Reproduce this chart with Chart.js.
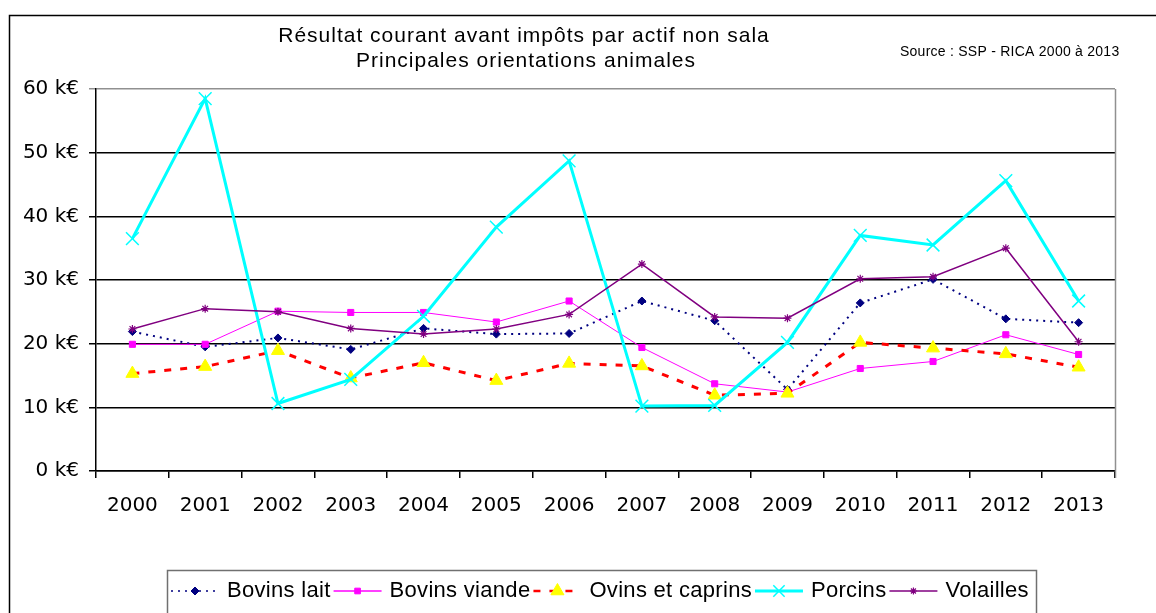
<!DOCTYPE html>
<html>
<head>
<meta charset="utf-8">
<script src="https://cdn.jsdelivr.net/npm/chart.js@4.4.1/dist/chart.umd.min.js"></script>
<style>
  html, body { margin: 0; padding: 0; background: #fff; }
  #wrap { width: 1156px; height: 613px; }
</style>
</head>
<body>
<div id="wrap"><canvas id="myChart" width="1156" height="613"></canvas></div>
<script>
// Data (k€)
var years = ['2000', '2001', '2002', '2003', '2004', '2005', '2006', '2007', '2008', '2009', '2010', '2011', '2012', '2013'];
var bovinsLait = [21.9, 19.5, 20.9, 19.1, 22.4, 21.5, 21.6, 26.7, 23.6, 12.8, 26.4, 30.1, 23.9, 23.3];
var bovinsViande = [19.9, 19.9, 25.1, 24.9, 24.9, 23.4, 26.7, 19.4, 13.7, 12.4, 16.1, 17.2, 21.4, 18.3];
var ovinsCaprins = [15.3, 16.4, 18.9, 14.6, 17.0, 14.2, 16.9, 16.5, 11.9, 12.2, 20.2, 19.3, 18.4, 16.3];
var porcins = [36.5, 58.5, 10.6, 14.4, 24.3, 38.3, 48.7, 10.2, 10.3, 20.2, 37.0, 35.5, 45.6, 26.7];
var volailles = [22.3, 25.5, 25.0, 22.4, 21.5, 22.3, 24.6, 32.5, 24.2, 24.0, 30.2, 30.5, 35.0, 20.3];
var yTicks = [0, 10, 20, 30, 40, 50, 60];

var titleLines = ['Résultat courant avant impôts par actif non sala', 'Principales orientations animales'];
var sourceText = 'Source : SSP - RICA 2000 à 2013';

var sansFont = '"Liberation Sans", Arial, sans-serif';
var axisFont = '"DejaVu Sans", Verdana, sans-serif';

// frame, title, source and the Excel-like legend
var decorPlugin = {
  id: 'decor',
  afterDraw: function(chart) {
    var ctx = chart.ctx;
    var area = chart.chartArea;
    ctx.save();

    // outer frame (top and left)
    ctx.strokeStyle = '#000';
    ctx.lineWidth = 1.5;
    ctx.beginPath();
    ctx.moveTo(9.5, 613);
    ctx.lineTo(9.5, 15.5);
    ctx.lineTo(1156, 15.5);
    ctx.stroke();

    // right border of plot area
    ctx.strokeStyle = '#909090';
    ctx.lineWidth = 1.5;
    ctx.beginPath();
    ctx.moveTo(Math.round(area.right) + 0.5, area.top);
    ctx.lineTo(Math.round(area.right) + 0.5, area.bottom + 7);
    ctx.stroke();

    // title
    ctx.fillStyle = '#000';
    ctx.textAlign = 'center';
    ctx.textBaseline = 'middle';
    ctx.font = '21px ' + sansFont;
    ctx.letterSpacing = '1px';
    ctx.fillText(titleLines[0], 524, 36);
    ctx.fillText(titleLines[1], 526, 61);

    // source
    ctx.font = '14px ' + sansFont;
    ctx.letterSpacing = '0.25px';
    ctx.textAlign = 'left';
    ctx.fillText(sourceText, 900, 52);

    // legend box
    ctx.letterSpacing = '0px';
    ctx.strokeStyle = '#707070';
    ctx.lineWidth = 1.5;
    ctx.strokeRect(167.5, 570.5, 869, 60);

    ctx.font = '22px ' + sansFont;
    ctx.letterSpacing = '0.3px';
    ctx.textBaseline = 'middle';
    var x = 171;
    var ly = 591;
    chart.data.datasets.forEach(function(ds) {
      ctx.save();
      ctx.strokeStyle = ds.borderColor;
      ctx.lineWidth = ds.legendLineWidth;
      ctx.setLineDash(ds.borderDash || []);
      ctx.beginPath();
      ctx.moveTo(x, ly);
      ctx.lineTo(x + 48, ly);
      ctx.stroke();
      ctx.setLineDash([]);
      ctx.fillStyle = ds.pointBackgroundColor;
      ctx.strokeStyle = ds.pointBorderColor;
      ctx.lineWidth = ds.pointBorderWidth;
      Chart.helpers.drawPoint(ctx, {
        pointStyle: ds.pointStyle,
        radius: ds.legendRadius,
        rotation: 0,
        borderWidth: ds.pointBorderWidth
      }, x + 24, ly);
      ctx.restore();

      ctx.fillStyle = '#000';
      ctx.textAlign = 'left';
      ctx.fillText(ds.label, x + 56, ly);
      x = x + 56 + ctx.measureText(ds.label).width + 3;
    });

    ctx.restore();
  }
};

var ctx = document.getElementById('myChart').getContext('2d');

var data = {
  labels: years,
  datasets: [{
    label: 'Bovins lait',
    data: bovinsLait,
    borderColor: '#000080',
    borderWidth: 2,
    legendLineWidth: 1.5,
    borderDash: [2, 5],
    pointStyle: 'rectRot',
    pointRadius: 4,
    legendRadius: 4,
    pointBackgroundColor: '#000080',
    pointBorderColor: '#000080',
    pointBorderWidth: 1,
    order: 5
  }, {
    label: 'Bovins viande',
    data: bovinsViande,
    borderColor: '#ff00ff',
    borderWidth: 1,
    legendLineWidth: 1.5,
    pointStyle: 'rect',
    pointRadius: 4.3,
    legendRadius: 4,
    pointBackgroundColor: '#ff00ff',
    pointBorderColor: '#ff00ff',
    pointBorderWidth: 1,
    order: 4
  }, {
    label: 'Ovins et caprins',
    data: ovinsCaprins,
    borderColor: '#ff0000',
    borderWidth: 3,
    legendLineWidth: 2.5,
    borderDash: [7, 9],
    pointStyle: 'triangle',
    pointRadius: 7.5,
    legendRadius: 7.5,
    pointBackgroundColor: '#ffff00',
    pointBorderColor: '#ffff00',
    pointBorderWidth: 1,
    order: 3
  }, {
    label: 'Porcins',
    data: porcins,
    borderColor: '#00ffff',
    borderWidth: 3,
    legendLineWidth: 3,
    pointStyle: 'crossRot',
    pointRadius: 9,
    legendRadius: 8,
    pointBackgroundColor: '#00ffff',
    pointBorderColor: '#00ffff',
    pointBorderWidth: 1.5,
    order: 2
  }, {
    label: 'Volailles',
    data: volailles,
    borderColor: '#800080',
    borderWidth: 1.5,
    legendLineWidth: 1.5,
    pointStyle: 'star',
    pointRadius: 4,
    legendRadius: 3.5,
    pointBackgroundColor: '#800080',
    pointBorderColor: '#800080',
    pointBorderWidth: 1.2,
    order: 1
  }]
};

var config = {
  type: 'line',
  data: data,
  options: {
    responsive: false,
    animation: false,
    devicePixelRatio: 1,
    layout: { padding: { top: 89, left: 0, right: 41, bottom: 0 } },
    elements: { line: { tension: 0, fill: false } },
    plugins: {
      legend: { display: false },
      title: { display: false },
      tooltip: { enabled: false }
    },
    scales: {
      x: {
        offset: true,
        grid: {
          offset: true,
          drawOnChartArea: false,
          drawTicks: true,
          tickLength: 7,
          color: '#000',
          lineWidth: 1.5
        },
        border: { color: '#000', width: 1.5 },
        ticks: {
          autoSkip: false,
          maxRotation: 0,
          padding: 16,
          color: '#000',
          font: { family: axisFont, size: 20 }
        },
        afterFit: function(scale) { scale.height = 142; }
      },
      y: {
        min: 0,
        max: 60,
        afterBuildTicks: function(scale) {
          scale.ticks = yTicks.map(function(v) { return { value: v }; });
        },
        grid: {
          color: function(c) { return c.tick && c.tick.value === 60 ? '#909090' : '#000'; },
          lineWidth: 1.5,
          tickLength: 7
        },
        border: { color: '#000', width: 1.5 },
        ticks: {
          padding: 10,
          color: '#000',
          font: { family: axisFont, size: 20 },
          callback: function(v) { return v + ' k€'; }
        },
        afterFit: function(scale) { scale.width = 96; }
      }
    }
  },
  plugins: [decorPlugin]
};

var myChart = new Chart(ctx, config);
</script>
</body>
</html>
